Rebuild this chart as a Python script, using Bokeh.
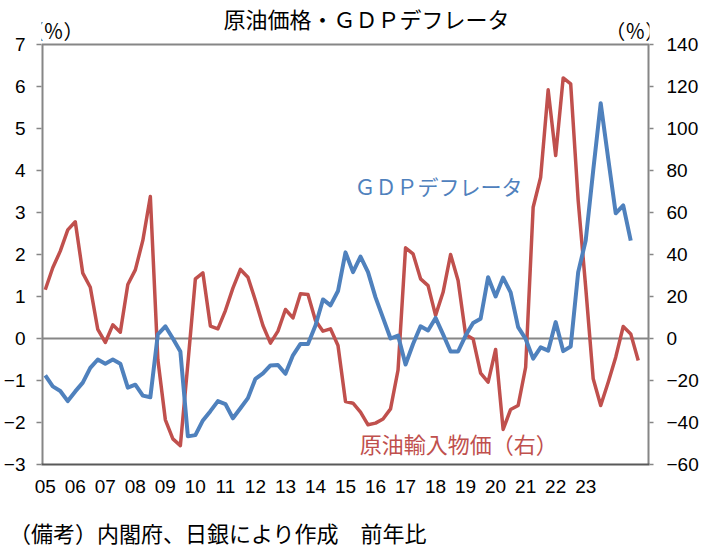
from bokeh.plotting import figure
from bokeh.models import (Range1d, LinearAxis, FixedTicker, Span, Label,
                          ColumnDataSource)
from bokeh.embed import file_html
from bokeh.resources import INLINE

# ---------------- data (quarterly, 2005Q1 onward) ----------------
gdp_deflator = [
    -0.88, -1.14, -1.25, -1.49, -1.26, -1.05, -0.70, -0.50, -0.60, -0.50,
    -0.60, -1.17, -1.10, -1.36, -1.40, 0.10, 0.29, 0.00, -0.31, -2.33,
    -2.30, -1.95, -1.73, -1.49, -1.56, -1.90, -1.66, -1.42, -0.96, -0.83,
    -0.64, -0.63, -0.84, -0.40, -0.13, -0.13, 0.31, 0.93, 0.79, 1.13,
    2.05, 1.58, 1.95, 1.58, 0.98, 0.49, 0.00, 0.07, -0.62, -0.13,
    0.29, 0.19, 0.49, 0.10, -0.31, -0.31, 0.07, 0.37, 0.47, 1.46,
    1.00, 1.45, 1.10, 0.27, -0.01, -0.48, -0.21, -0.29, 0.39, -0.30,
    -0.19, 1.58, 2.33, 4.00, 5.60, 4.28, 2.98, 3.17, 2.33,
]
oil_import_price = [
    23.2, 33.7, 41.6, 51.7, 55.6, 31.1, 24.4, 4.3, -1.9, 6.5,
    3.0, 25.7, 32.7, 46.7, 67.6, -10.0, -38.7, -47.8, -51.0, -12.0,
    28.4, 31.3, 5.9, 4.6, 13.3, 24.0, 32.9, 29.2, 18.1, 6.2,
    -2.2, 3.5, 13.8, 9.8, 21.3, 21.0, 8.6, 3.5, 4.6, -3.3,
    -30.0, -30.8, -35.1, -41.1, -40.3, -38.3, -33.5, -15.0, 43.2, 40.3,
    28.4, 25.2, 11.0, 22.0, 40.0, 27.6, 1.9, -0.2, -16.5, -20.8,
    -5.2, -43.3, -33.8, -31.9, -13.7, 62.5, 76.8, 118.4, 87.1, 124.1,
    121.3, 65.7, 24.4, -19.2, -31.9, -20.8, -8.9, 5.7, 2.2, -10.5,
]
year_labels = ["05", "06", "07", "08", "09", "10", "11", "12", "13", "14",
               "15", "16", "17", "18", "19", "20", "21", "22", "23"]
left_ticks = [-3, -2, -1, 0, 1, 2, 3, 4, 5, 6, 7]
right_ticks = [-60, -40, -20, 0, 20, 40, 60, 80, 100, 120, 140]
n_categories = 81

title_text = "原油価格・ＧＤＰデフレータ"
blue_name = "ＧＤＰデフレータ"
red_name = "原油輸入物価（右）"
footer_text = "（備考）内閣府、日銀により作成　前年比"
unit_text = "（％）"

BLUE = "#4F81BD"
RED = "#C0504D"
GRAY = "#868686"
NUM_FONT = "Liberation Sans"
JP_FONT = "Noto Sans CJK JP"

# geometry of the page (pixels)
W, H = 704, 553
FRAME_L, FRAME_R, FRAME_T, FRAME_B = 41, 649, 44, 464
PX_PER_UNIT = (FRAME_B - FRAME_T) / (left_ticks[-1] - left_ticks[0])
# extra room above the value box (inside the frame) for title / unit texts
top_extra = FRAME_T / PX_PER_UNIT
right_scale = (right_ticks[-1] - right_ticks[0]) / (left_ticks[-1] - left_ticks[0])

x_lo, x_hi = -0.5, n_categories - 0.5
p = figure(width=W, height=H, output_backend="svg", toolbar_location=None,
           x_range=Range1d(x_lo, x_hi),
           y_range=Range1d(left_ticks[0], left_ticks[-1] + top_extra),
           min_border_left=FRAME_L, min_border_right=W - FRAME_R,
           min_border_top=0, min_border_bottom=H - FRAME_B)
p.extra_y_ranges = {"right": Range1d(right_ticks[0],
                                     right_ticks[-1] + top_extra * right_scale)}

p.xgrid.visible = False
p.ygrid.visible = False
p.outline_line_color = None
p.background_fill_color = "white"
p.border_fill_color = "white"

# x axis (years)
xa = p.xaxis[0]
x_tick_pos = [4 * k for k in range(len(year_labels))]
xa.ticker = FixedTicker(ticks=x_tick_pos)
xa.major_label_overrides = {pos: lab for pos, lab in zip(x_tick_pos, year_labels)}
xa.major_tick_out = 0
xa.major_tick_in = 0
xa.minor_tick_out = 0
xa.minor_tick_in = 0
xa.axis_line_color = "#595959"
xa.axis_line_width = 2
xa.major_label_standoff = 15
xa.major_label_text_font = NUM_FONT
xa.major_label_text_font_size = "19px"
xa.major_label_text_color = "black"

# footer as a second, line-less axis below
fa = LinearAxis()
fa.ticker = FixedTicker(ticks=[23])
fa.major_label_overrides = {23: footer_text}
fa.axis_line_color = None
fa.major_tick_out = 0
fa.major_tick_in = 0
fa.minor_tick_out = 0
fa.minor_tick_in = 0
fa.major_label_standoff = 20
fa.major_label_text_font = JP_FONT
fa.major_label_text_font_size = "22px"
fa.major_label_text_color = "black"
p.add_layout(fa, "below")

# left y axis
ya = p.yaxis[0]
ya.ticker = FixedTicker(ticks=left_ticks)
ya.major_label_overrides = {t: str(t).replace("-", "\u2212") for t in left_ticks}
ya.axis_line_color = None
ya.major_tick_line_color = GRAY
ya.major_tick_line_width = 1.5
ya.major_tick_out = 5
ya.major_tick_in = 0
ya.minor_tick_out = 0
ya.minor_tick_in = 0
ya.major_label_standoff = 11
ya.major_label_text_font = NUM_FONT
ya.major_label_text_font_size = "19px"
ya.major_label_text_color = "black"

# right y axis
ra = LinearAxis(y_range_name="right")
ra.ticker = FixedTicker(ticks=right_ticks)
ra.major_label_overrides = {t: str(t).replace("-", "\u2212") for t in right_ticks}
ra.axis_line_color = None
ra.major_tick_line_color = GRAY
ra.major_tick_line_width = 1.5
ra.major_tick_out = 4
ra.major_tick_in = 0
ra.minor_tick_out = 0
ra.minor_tick_in = 0
ra.major_label_standoff = 13
ra.major_label_text_font = NUM_FONT
ra.major_label_text_font_size = "19px"
ra.major_label_text_color = "black"
p.add_layout(ra, "right")

# box: top edge, side edges, zero line
p.add_layout(Span(location=left_ticks[-1], dimension="width", line_color=GRAY,
                  line_width=2, level="underlay"))
p.add_layout(Span(location=0, dimension="width", line_color=GRAY, line_width=2,
                  level="underlay"))
p.segment(x0=[x_lo, x_hi], x1=[x_lo, x_hi],
          y0=[left_ticks[0]] * 2, y1=[left_ticks[-1]] * 2,
          line_color=GRAY, line_width=4)

# series
src_blue = ColumnDataSource(dict(x=list(range(len(gdp_deflator))), y=gdp_deflator))
src_red = ColumnDataSource(dict(x=list(range(len(oil_import_price))), y=oil_import_price))
p.line("x", "y", source=src_red, line_color=RED, line_width=3.5,
       y_range_name="right", line_join="round")
p.line("x", "y", source=src_blue, line_color=BLUE, line_width=4,
       line_join="round")

# ---------------- texts (positions in left-axis data units) ----------------
def lab(x, y, text, size, color="black", align="left"):
    p.add_layout(Label(x=x, y=y, text=text, text_font=JP_FONT,
                       text_font_size=size, text_color=color,
                       text_align=align, text_baseline="middle"))

lab(42.8, 7.62, title_text, "22px", align="center")
lab(1.1, 7.33, unit_text, "20px", align="center")
lab(78.6, 7.33, unit_text, "20px", align="center")
lab(41.2, 3.62, blue_name, "21px", color=BLUE)
lab(41.9, -2.48, red_name, "22px", color=RED)

open("out.html", "w").write(file_html(p, INLINE))
